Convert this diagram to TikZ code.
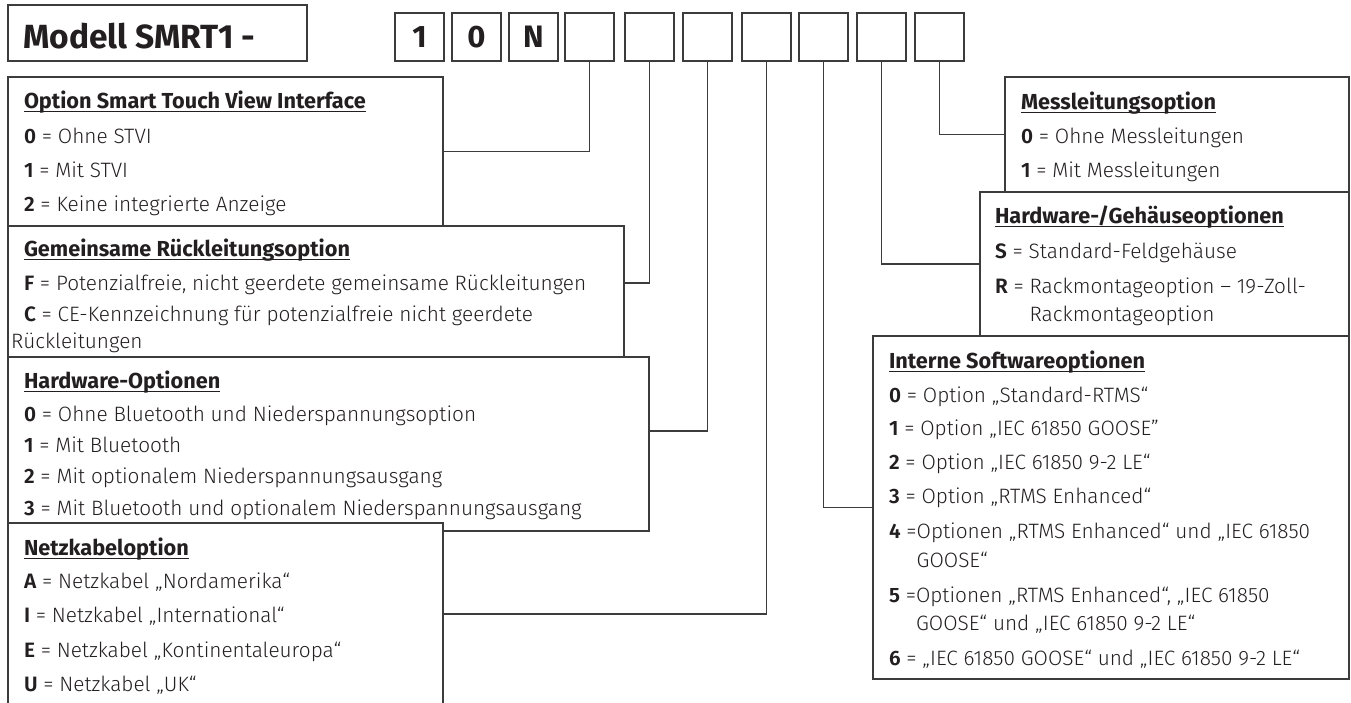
\documentclass[tikz,border=0pt]{standalone}
\usepackage{fontspec}
\IfFontExistsTF{Fira Sans Light}{%
  \IfFontExistsTF{Fira Sans SemiBold}%
    {\setmainfont{Fira Sans Light}[BoldFont={Fira Sans SemiBold}]}%
    {\setmainfont{Fira Sans Light}[BoldFont={Fira Sans Bold}]}%
}{\setmainfont{Fira Sans}}
\IfFontExistsTF{Fira Sans Bold}{\newfontfamily\heavyfont{Fira Sans Bold}}{\newcommand\heavyfont{\bfseries}}
\definecolor{linec}{RGB}{60,60,60}
\definecolor{txtc}{RGB}{35,31,32}
\newcommand\hdr[1]{\setbox0\hbox{\heavyfont\fontsize{21.7}{24}\selectfont #1}\rlap{\vrule height -3pt depth 4.3pt width \wd0}\box0}
\newcommand\bodyfont{\fontsize{20.8}{24}\selectfont}
\begin{document}
\begin{tikzpicture}[x=1pt,y=-1pt,
  box/.style={draw=linec, line width=1.1pt, fill=white, inner sep=0pt, outer sep=0pt, anchor=north west},
  dbox/.style={box, minimum width=49pt, minimum height=48pt, text=txtc, font=\heavyfont\fontsize{31}{31}\selectfont},
  conn/.style={draw=linec, line width=1.1pt},
  t/.style={anchor=base west, inner sep=0pt, outer sep=0pt, text=txtc, font=\bodyfont}]
\useasboundingbox (0,0) rectangle (1351,702);
\clip (0,0) rectangle (1351,702);
% title and code boxes
\node[box, minimum width=299pt, minimum height=56pt] (title) at (8,5) {};
\node[anchor=base west, inner sep=0pt, text=txtc, font=\heavyfont\fontsize{33.5}{34}\selectfont] (titletext) at (23,48) {Modell SMRT1 -};
\node[dbox] (d1) at (395,13) {1};
\node[dbox] (d2) at (452,13) {0};
\node[dbox] (d3) at (509,13) {N};
\node[dbox] (e1) at (565,13) {};
\node[dbox] (e2) at (625,13) {};
\node[dbox] (e3) at (683,13) {};
\node[dbox] (e4) at (742,13) {};
\node[dbox] (e5) at (799,13) {};
\node[dbox] (e6) at (857,13) {};
\node[dbox] (e7) at (915,13) {};
% option boxes
\node[box, minimum width=435pt, minimum height=149pt] (stvi) at (8,77) {};
\node[box, minimum width=616pt, minimum height=131pt] (gem) at (8,226) {};
\node[box, minimum width=641pt, minimum height=174pt] (hw) at (8,357) {};
\node[box, minimum width=435pt, minimum height=200pt] (netz) at (8,523) {};
\node[box, minimum width=344pt, minimum height=115pt] (mess) at (1005,77) {};
\node[box, minimum width=369pt, minimum height=144pt] (geh) at (980,192) {};
\node[box, minimum width=476pt, minimum height=343pt] (intern) at (873,336) {};
% connectors
\draw[conn] (e1.south) |- (stvi.east);
\draw[conn] (e2.south) |- ([yshift=8.5pt]gem.east);
\draw[conn] (e3.south) |- ([yshift=13pt]hw.east);
\draw[conn] (e4.south) |- ([yshift=9pt]netz.east);
\draw[conn] (e5.south) |- (intern.west);
\draw[conn] (e6.south) |- (geh.west);
\draw[conn] (e7.south) |- (mess.west);
% STVI
\node[t] (s0) at (24,108) {\hdr{Option Smart Touch View Interface}};
\node[t] (s1) at (24,143) {\textbf{0} = Ohne STVI};
\node[t] (s2) at (24,177) {\textbf{1} = Mit STVI};
\node[t] (s3) at (24,211) {\textbf{2} = Keine integrierte Anzeige};
% Gemeinsame
\node[t] (g0) at (24,256) {\hdr{Gemeinsame Rückleitungsoption}};
\node[t] (g1) at (24,290) {\textbf{F} = Potenzialfreie, nicht geerdete gemeinsame Rückleitungen};
\node[t] (g2) at (24,321) {\textbf{C} = CE-Kennzeichnung für potenzialfreie nicht geerdete};
\node[t] (g3) at (11,348) {Rückleitungen};
% Hardware
\node[t] (h0) at (24,388) {\hdr{Hardware-Optionen}};
\node[t] (h1) at (24,421) {\textbf{0} = Ohne Bluetooth und Niederspannungsoption};
\node[t] (h2) at (24,452) {\textbf{1} = Mit Bluetooth};
\node[t] (h3) at (24,483) {\textbf{2} = Mit optionalem Niederspannungsausgang};
\node[t] (h4) at (24,515) {\textbf{3} = Mit Bluetooth und optionalem Niederspannungsausgang};
% Netzkabel
\node[t] (n0) at (24,555) {\hdr{Netzkabeloption}};
\node[t] (n1) at (24,588) {\textbf{A} = Netzkabel „Nordamerika“};
\node[t] (n2) at (24,622) {\textbf{I} = Netzkabel „International“};
\node[t] (n3) at (24,657) {\textbf{E} = Netzkabel „Kontinentaleuropa“};
\node[t] (n4) at (24,691) {\textbf{U} = Netzkabel „UK“};
% Messleitung
\node[t] (m0) at (1021,109) {\hdr{Messleitungsoption}};
\node[t] (m1) at (1021,143) {\textbf{0} = Ohne Messleitungen};
\node[t] (m2) at (1021,177) {\textbf{1} = Mit Messleitungen};
% Gehaeuse
\node[t] (k0) at (995,223) {\hdr{Hardware-/Gehäuseoptionen}};
\node[t] (k1) at (995,258) {\textbf{S} = Standard-Feldgehäuse};
\node[t] (k2) at (995,293) {\textbf{R} = Rackmontageoption – 19-Zoll-};
\node[t] (k3) at (995,321) {\phantom{\textbf{R} = }Rackmontageoption};
% Interne
\node[t] (i0) at (889,368) {\hdr{Interne Softwareoptionen}};
\node[t] (i1) at (889,402) {\textbf{0} = Option „Standard-RTMS“};
\node[t] (i2) at (889,435) {\textbf{1} = Option „IEC 61850 GOOSE"};
\node[t] (i3) at (889,469) {\textbf{2} = Option „IEC 61850 9-2 LE“};
\node[t] (i4) at (889,503) {\textbf{3} = Option „RTMS Enhanced“};
\node[t] (i5) at (889,538) {\textbf{4} =Optionen „RTMS Enhanced“ und „IEC 61850};
\node[t] (i6) at (889,567) {\phantom{\textbf{4} =}GOOSE“};
\node[t] (i7) at (889,602) {\textbf{5} =Optionen „RTMS Enhanced“, „IEC 61850};
\node[t] (i8) at (889,630) {\phantom{\textbf{5} =}GOOSE“ und „IEC 61850 9-2 LE“};
\node[t] (i9) at (889,665) {\textbf{6} = „IEC 61850 GOOSE“ und „IEC 61850 9-2 LE“};
\end{tikzpicture}
\end{document}
